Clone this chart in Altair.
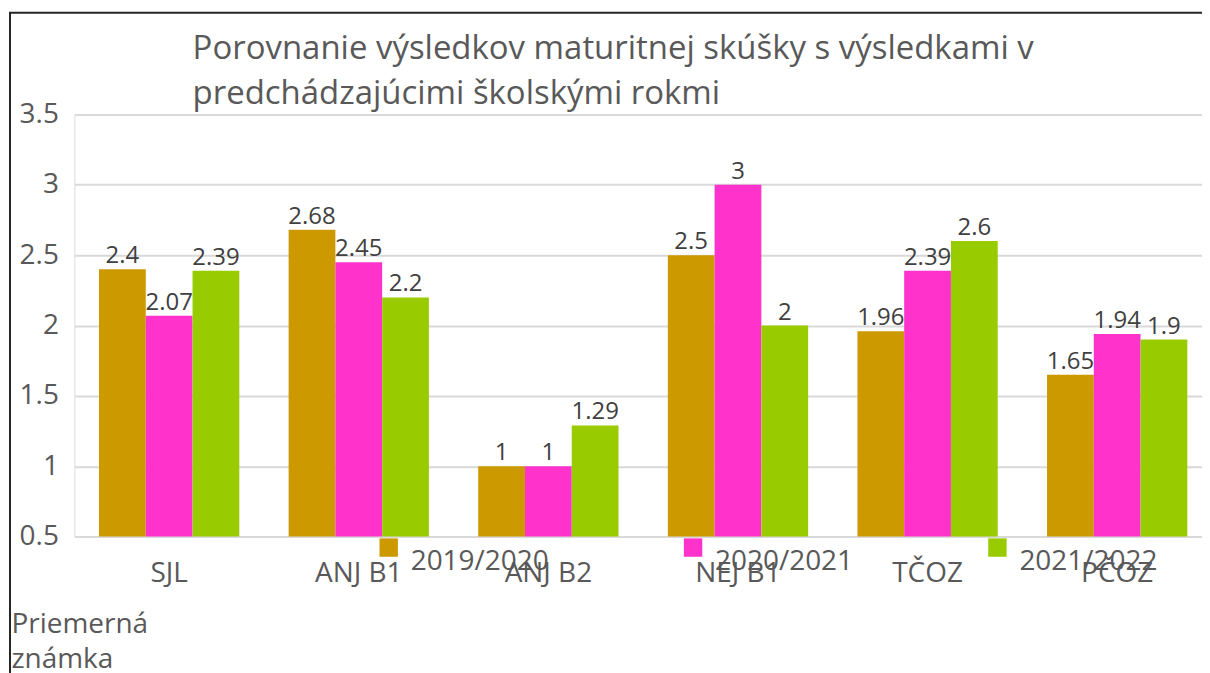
import altair as alt
import pandas as pd

subjects = ["SJL", "ANJ B1", "ANJ B2", "NEJ B1", "TČOZ", "PČOZ"]
years = ["2019/2020", "2020/2021", "2021/2022"]
v_2019 = [2.4, 2.68, 1, 2.5, 1.96, 1.65]
v_2020 = [2.07, 2.45, 1, 3, 2.39, 1.94]
v_2021 = [2.39, 2.2, 1.29, 2, 2.6, 1.9]
colors = ["#CC9900", "#FF33CC", "#99CC00"]
title_lines = ["Porovnanie výsledkov maturitnej skúšky s výsledkami v",
               "predchádzajúcimi školskými rokmi"]
y_title = ["Priemerná", "známka"]

rows = []
for yr, vals in zip(years, [v_2019, v_2020, v_2021]):
    for s, v in zip(subjects, vals):
        rows.append({"subject": s, "year": yr, "value": v, "label": f"{v:g}"})
df = pd.DataFrame(rows)

FONT = "Open Sans"
W, H = 1140, 423
FS = 28

base = alt.Chart(df).encode(
    x=alt.X("subject:N", sort=subjects,
            scale=alt.Scale(paddingInner=0.26, paddingOuter=0.13),
            axis=alt.Axis(title=None, labelAngle=0, labelFontSize=FS, labelColor="#595959",
                          labelFont=FONT, labelPadding=23, ticks=False, domain=False, grid=False)),
    xOffset=alt.XOffset("year:N", sort=years, scale=alt.Scale(paddingInner=0, paddingOuter=0)),
)

bars = base.mark_bar().encode(
    y=alt.Y("value:Q", scale=alt.Scale(domain=[0.5, 3.5], zero=False, nice=False),
            axis=alt.Axis(values=[0.5, 1, 1.5, 2, 2.5, 3, 3.5], format="~g", title=y_title,
                          titleAngle=0, titleAlign="left", titleBaseline="alphabetic",
                          titleX=-63.5, titleY=519, titleFontSize=FS, titleFontWeight="normal",
                          titleColor="#595959", titleFont=FONT, titleLineHeight=35,
                          labelFontSize=FS, labelColor="#595959", labelFont=FONT,
                          labelPadding=16, ticks=False, domain=False,
                          gridColor="#d9d9d9", gridWidth=2)),
    y2=alt.datum(0.5),
    color=alt.Color("year:N", sort=years, scale=alt.Scale(domain=years, range=colors),
                    legend=alt.Legend(title=None, orient="none", legendX=301, legendY=420,
                                      direction="horizontal", symbolType="square",
                                      symbolSize=340, symbolStrokeWidth=0, symbolOpacity=1,
                                      labelFontSize=FS, labelColor="#595959", labelFont=FONT,
                                      labelOffset=8, columnPadding=130, labelBaseline="top",
                                      padding=0)),
)

labels = base.mark_text(baseline="alphabetic", dy=-6, fontSize=24, font=FONT,
                        color="#404040").encode(
    y=alt.Y("value:Q"),
    text="label:N",
)

frame_df = pd.DataFrame({"k": [0]})
frame = alt.Chart(frame_df).mark_rect(filled=False, stroke="#262626", strokeWidth=2).encode(
    x=alt.value(-64.5), x2=alt.value(W + 60), y=alt.value(-102), y2=alt.value(H + 300))

chart = alt.layer(bars, labels, frame).properties(
    width=W, height=H,
    title=alt.TitleParams(text=title_lines, anchor="start", dx=184, fontSize=33,
                          font=FONT, fontWeight="normal", color="#595959",
                          lineHeight=46, offset=0, dy=100),
    autosize=alt.AutoSizeParams(type="none"),
    padding={"left": 66.5, "top": 106, "right": -10, "bottom": 136},
).configure_view(stroke=None).configure(font=FONT)

chart.save("out.html", embed_options={"renderer": "svg", "actions": False})
